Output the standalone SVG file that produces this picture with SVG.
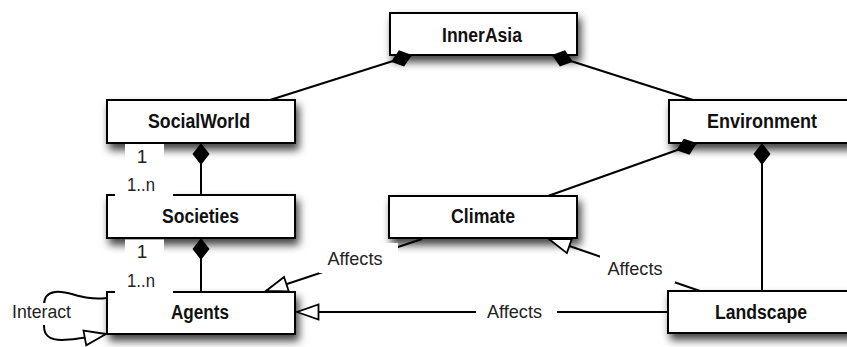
<svg xmlns="http://www.w3.org/2000/svg" width="847" height="347" viewBox="0 0 847 347">
  <style>
    .box { fill: #fff; stroke: #000; stroke-width: 2; filter: url(#shadow); }
    .name { font-family: "Liberation Sans", Arial, sans-serif; font-size: 19.5px; font-weight: bold; fill: #111; text-anchor: middle; }
    .lbl { font-family: "Liberation Sans", Arial, sans-serif; font-size: 19px; fill: #222; text-anchor: middle; }
    .conn { fill: none; stroke: #000; stroke-width: 2; }
    .comp { marker-start: url(#diamond); }
    .gen { marker-end: url(#tri); }
    .bg { fill: #fff; }
  </style>
  <defs>
    <filter id="shadow" x="-20%" y="-40%" width="150%" height="200%">
      <feDropShadow dx="3" dy="6" stdDeviation="4.5" flood-color="#000" flood-opacity="0.75"/>
    </filter>
    <marker id="diamond" viewBox="0 0 22 17" refX="0" refY="8.5" markerWidth="22" markerHeight="17" markerUnits="userSpaceOnUse" orient="auto" overflow="visible">
      <path d="M0,8.5 L11,0 L22,8.5 L11,17 Z" fill="#000"/>
    </marker>
    <marker id="tri" viewBox="0 0 24 18" refX="22.5" refY="9" markerWidth="24" markerHeight="18" markerUnits="userSpaceOnUse" orient="auto" overflow="visible">
      <path d="M22.5,9 L1,1.5 L1,16.5 Z" fill="#fff" stroke="#000" stroke-width="1.8" stroke-linejoin="miter"/>
    </marker>
  </defs>
  <rect width="847" height="347" fill="#fff"/>

  <g id="nodes">
    <g id="InnerAsia">
      <rect class="box" x="390" y="13" width="187" height="42"/>
      <text class="name" x="482" y="41.5" textLength="80" lengthAdjust="spacingAndGlyphs">InnerAsia</text>
    </g>
    <g id="SocialWorld">
      <rect class="box" x="107" y="100" width="188" height="43"/>
      <text class="name" x="199" y="127.5" textLength="102" lengthAdjust="spacingAndGlyphs">SocialWorld</text>
    </g>
    <g id="Environment">
      <rect class="box" x="669" y="100" width="188" height="43"/>
      <text class="name" x="762" y="127.5" textLength="110" lengthAdjust="spacingAndGlyphs">Environment</text>
    </g>
    <g id="Societies">
      <rect class="box" x="107" y="195" width="188" height="43"/>
      <text class="name" x="200.5" y="223" textLength="77" lengthAdjust="spacingAndGlyphs">Societies</text>
    </g>
    <g id="Climate">
      <rect class="box" x="389" y="196" width="188" height="42"/>
      <text class="name" x="483" y="223" textLength="64" lengthAdjust="spacingAndGlyphs">Climate</text>
    </g>
    <g id="Agents">
      <rect class="box" x="107" y="292" width="188" height="42"/>
      <text class="name" x="200" y="319" textLength="58" lengthAdjust="spacingAndGlyphs">Agents</text>
    </g>
    <g id="Landscape">
      <rect class="box" x="668" y="291" width="189" height="42"/>
      <text class="name" x="761" y="318.5" textLength="92" lengthAdjust="spacingAndGlyphs">Landscape</text>
    </g>
  </g>

  <g id="connectors">
    <path class="conn comp" d="M412,55 L270,100"/>
    <path class="conn comp" d="M552,55 L693,100"/>
    <path class="conn comp" d="M697,143 L548,196"/>
    <path class="conn comp" d="M762,143 L762,291"/>
    <path class="conn comp" d="M201,143 L201,195"/>
    <path class="conn comp" d="M201,238 L201,292"/>
    <path class="conn gen" d="M422,239 L266,291"/>
    <path class="conn gen" d="M700,291 L549,239"/>
    <path class="conn gen" d="M668,312 L297,312"/>
    <path class="conn gen" d="M107,298 C80,301 70,290 55,292 C47,293 44,298 44,305 L44,326 C44,336 50,340 62,340 C75,340 90,337 106,334"/>

    <g id="connector-labels">
      <rect class="bg" x="125" y="144" width="39" height="26"/>
      <text class="lbl" x="142" y="163">1</text>
      <rect class="bg" x="115" y="171" width="58" height="25.5"/>
      <text class="lbl" x="141" y="191" textLength="28" lengthAdjust="spacingAndGlyphs">1..n</text>
      <rect class="bg" x="125" y="239.5" width="39" height="26"/>
      <text class="lbl" x="142" y="258">1</text>
      <rect class="bg" x="115" y="266" width="58" height="27"/>
      <text class="lbl" x="141" y="287" textLength="28" lengthAdjust="spacingAndGlyphs">1..n</text>

      <rect class="bg" x="319" y="243" width="79" height="30"/>
      <text class="lbl" x="355" y="265" textLength="55" lengthAdjust="spacingAndGlyphs">Affects</text>
      <rect class="bg" x="600" y="255" width="75" height="28"/>
      <text class="lbl" x="635" y="275" textLength="55" lengthAdjust="spacingAndGlyphs">Affects</text>
      <rect class="bg" x="476" y="300" width="81" height="24"/>
      <text class="lbl" x="514.5" y="318" textLength="55" lengthAdjust="spacingAndGlyphs">Affects</text>
      <rect class="bg" x="6" y="303" width="72" height="22"/>
      <text class="lbl" x="41.5" y="318" textLength="59" lengthAdjust="spacingAndGlyphs">Interact</text>
    </g>
  </g>
</svg>
